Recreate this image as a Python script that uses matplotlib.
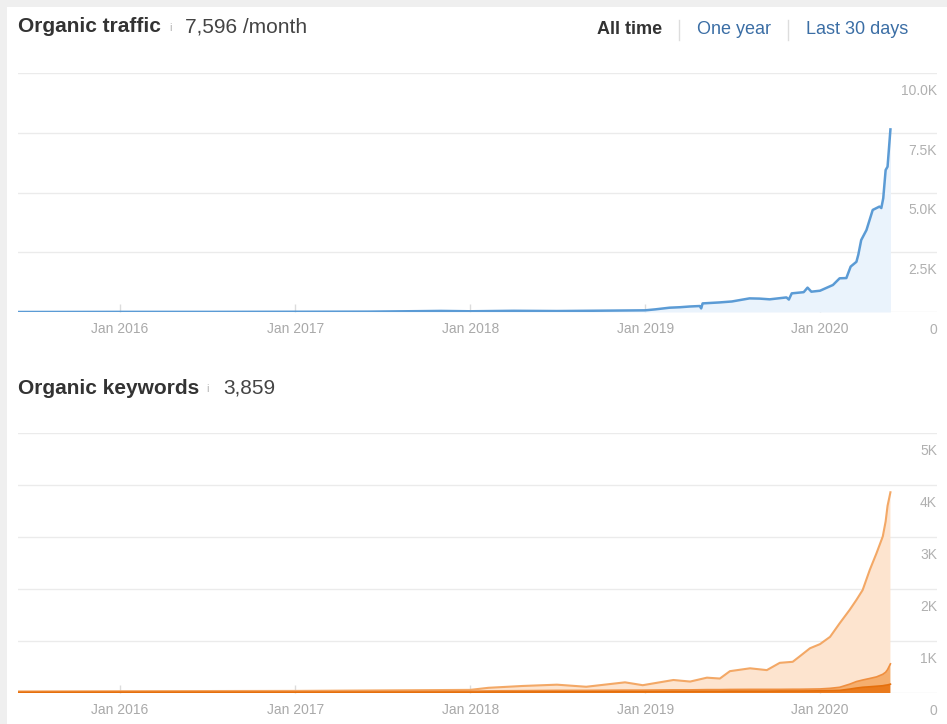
"""Organic traffic / organic keywords panels, Ahrefs-style overview."""

import matplotlib

matplotlib.use("Agg")
import matplotlib.dates as mdates  # noqa: E402
import matplotlib.pyplot as plt  # noqa: E402
import matplotlib.transforms as mtransforms  # noqa: E402
import numpy as np  # noqa: E402
import pandas as pd  # noqa: E402
from matplotlib.lines import Line2D  # noqa: E402
from matplotlib.patches import Rectangle  # noqa: E402

plt.rcParams["font.family"] = ["Liberation Sans", "DejaVu Sans"]

# --- data ---------------------------------------------------------------
traffic_dates = [
    "2015-06-01", "2016-01-01", "2016-07-01", "2017-01-01", "2017-06-01",
    "2017-09-15", "2017-11-01", "2018-01-01", "2018-04-01", "2018-07-01",
    "2018-10-01", "2019-01-01", "2019-01-22", "2019-02-21", "2019-03-15",
    "2019-04-04", "2019-04-25", "2019-04-28", "2019-05-01", "2019-06-05",
    "2019-07-01", "2019-08-07", "2019-08-28", "2019-09-18", "2019-10-23",
    "2019-10-28", "2019-11-03", "2019-11-28", "2019-12-06", "2019-12-14",
    "2020-01-01", "2020-01-28", "2020-02-11", "2020-02-25", "2020-03-05",
    "2020-03-17", "2020-03-21", "2020-03-27", "2020-04-07", "2020-04-20",
    "2020-05-04", "2020-05-08", "2020-05-12", "2020-05-17", "2020-05-21",
    "2020-05-27",
]
traffic = [
    0, 5, 5, 10, 15,
    35, 45, 30, 50, 40,
    55, 70, 110, 180, 200,
    230, 250, 150, 360, 400,
    440, 570, 560, 530, 610,
    520, 780, 830, 1020, 850,
    890, 1130, 1410, 1420, 1900,
    2100, 2400, 3010, 3430, 4270,
    4410, 4350, 4760, 5940, 6080,
    7640,
]

kw_dates = [
    "2015-06-01", "2016-01-01", "2017-01-01", "2018-01-01", "2018-02-08",
    "2018-04-20", "2018-07-01", "2018-08-31", "2018-11-20", "2018-12-27",
    "2019-03-01", "2019-04-05", "2019-05-10", "2019-06-06", "2019-06-27",
    "2019-08-08", "2019-09-12", "2019-10-09", "2019-11-05", "2019-11-19",
    "2019-12-11", "2020-01-01", "2020-01-22", "2020-02-11", "2020-03-03",
    "2020-03-17", "2020-03-30", "2020-04-14", "2020-04-28", "2020-05-11",
    "2020-05-17", "2020-05-21", "2020-05-27",
]
# positions 1-3 (dark), 4-10 (mid), 11+ (light) -- stacked
kw_top3 = [
    10, 12, 12, 15, 18, 20, 22, 22, 25, 25,
    30, 30, 32, 32, 35, 35, 35, 38, 38, 38,
    40, 42, 46, 50, 75, 95, 110, 120, 130, 140,
    150, 155, 170,
]
kw_4_10 = [
    10, 10, 13, 20, 22, 25, 28, 28, 30, 30,
    30, 30, 33, 33, 33, 35, 35, 32, 34, 34,
    35, 36, 44, 60, 95, 125, 140, 160, 180, 220,
    250, 295, 390,
]
kw_11_plus = [
    10, 13, 15, 25, 60, 90, 110, 70, 150, 95,
    190, 160, 230, 213, 352, 405, 370, 510, 528, 628,
    785, 862, 990, 1230, 1430, 1570, 1730, 2090, 2380, 2650,
    2900, 3150, 3300,
]

year_ticks = ["2016-01-01", "2017-01-01", "2018-01-01", "2019-01-01", "2020-01-01"]
year_labels = ["Jan 2016", "Jan 2017", "Jan 2018", "Jan 2019", "Jan 2020"]

traffic_ticks = [0, 2500, 5000, 7500, 10000]
traffic_tick_labels = ["0", "2.5K", "5.0K", "7.5K", "10.0K"]
kw_ticks = [0, 1000, 2000, 3000, 4000, 5000]
kw_tick_labels = ["0", "1K", "2K", "3K", "4K", "5K"]

# --- figure --------------------------------------------------------------
W, H = 947, 724
fig = plt.figure(figsize=(W / 100, H / 100), dpi=100, facecolor="#efefef")
fig.patches.append(Rectangle((7 / W, 0), 1, 1 - 7 / H, transform=fig.transFigure,
                             facecolor="white", edgecolor="none", zorder=-1))


def fig_box(left, top, right, bottom):
    return [left / W, 1 - bottom / H, (right - left) / W, (bottom - top) / H]


ax1 = fig.add_axes(fig_box(18, 73, 937, 312))
ax2 = fig.add_axes(fig_box(18, 433, 937, 693))

# x range: Jan 2016 at px 120, Jan 2020 at px 820
j16 = mdates.date2num(pd.Timestamp("2016-01-01"))
j20 = mdates.date2num(pd.Timestamp("2020-01-01"))
px_per_day = (820 - 120) / (j20 - j16)
xlim = (j16 - (120 - 18) / px_per_day, j20 + (937 - 820) / px_per_day)

down = mtransforms.ScaledTranslation(0, -18 / 100, fig.dpi_scale_trans)


def style_axis(ax, yticks, ylabels, ymax):
    ax.set_facecolor("none")
    for s in ax.spines.values():
        s.set_visible(False)
    ax.set_xlim(*xlim)
    ax.set_ylim(0, ymax)
    ax.set_yticks(yticks)
    ax.tick_params(axis="y", length=0, labelleft=False)
    ax.grid(axis="y", color="#ebebeb", linewidth=1)
    ax.set_axisbelow(True)
    ax.set_xticks(pd.to_datetime(year_ticks))
    ax.set_xticklabels(year_labels)
    ax.tick_params(axis="x", direction="in", length=6, width=1, color="#dcdcdc",
                   labelcolor="#a9a9a9", labelsize=10, pad=7)
    trans = ax.get_yaxis_transform() + down
    for v, lab in zip(yticks, ylabels):
        ax.text(1.0, v, lab, transform=trans, ha="right", va="center",
                fontsize=10, color="#b0b0b0", clip_on=False)


# traffic
t_dates = pd.to_datetime(traffic_dates)
style_axis(ax1, traffic_ticks, traffic_tick_labels, 10000)
ax1.fill_between(t_dates, 0, traffic, color="#eaf3fc", linewidth=0, zorder=2)
ax1.plot(t_dates, traffic, color="#5b9bd5", linewidth=1.8, zorder=3)

# keywords
k_dates = pd.to_datetime(kw_dates)
style_axis(ax2, kw_ticks, kw_tick_labels, 5000)
ax2.stackplot(k_dates, kw_top3, kw_4_10, kw_11_plus,
              colors=["#ea7a1c", "#f5ae6e", "#fde4cf"], linewidth=0, zorder=2)
levels = np.cumsum([kw_top3, kw_4_10, kw_11_plus], axis=0)
ax2.plot(k_dates, levels[2], color="#f3a866", linewidth=1.5, zorder=3)
ax2.plot(k_dates, levels[1], color="#ef8f40", linewidth=1.2, zorder=3)
ax2.plot(k_dates, levels[0], color="#e56f0c", linewidth=1.2, zorder=3)

# --- headers -------------------------------------------------------------
def ftext(x, y, s, **kw):
    fig.text(x / W, 1 - y / H, s, va="center", ha="left", **kw)


ftext(18, 27, "Organic traffic", fontsize=15, fontweight="bold", color="#333333")
ftext(169, 28, "i", fontsize=8, color="#b5b5b5")
ftext(185, 27, "7,596 /month", fontsize=15, color="#444444")

ftext(18, 388, "Organic keywords", fontsize=15, fontweight="bold", color="#333333")
ftext(206, 389, "i", fontsize=8, color="#b5b5b5")
ftext(223, 388, "3,859", fontsize=15, color="#444444")

ftext(597, 30, "All time", fontsize=13, fontweight="bold", color="#333333")
ftext(697, 30, "One year", fontsize=13, color="#3b6ea5")
ftext(806, 30, "Last 30 days", fontsize=13, color="#3b6ea5")
for sx in (679, 788):
    fig.add_artist(Line2D([sx / W, sx / W], [1 - 20 / H, 1 - 40 / H],
                          transform=fig.transFigure, color="#dddddd", linewidth=1))

fig.savefig("out.png", dpi=100, facecolor=fig.get_facecolor())
